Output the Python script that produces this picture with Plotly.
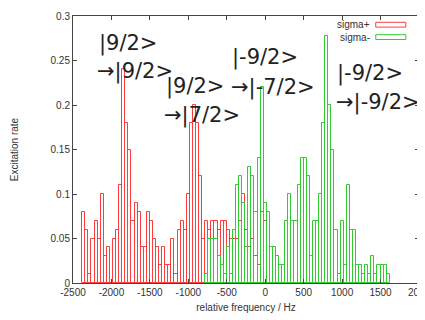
import plotly.graph_objects as go

# bin centres (Hz), 40 Hz wide bins
red_x = list(range(-2360, 1, 40))
red_y = [0.08, 0.06, 0.01, 0.05, 0.07, 0.05, 0.10, 0.03, 0.04, 0.00,
         0.05, 0.06, 0.11, 0.24, 0.18, 0.15, 0.07, 0.09, 0.08, 0.04,
         0.04, 0.08, 0.07, 0.05, 0.04, 0.02, 0.04, 0.02, 0.02, 0.05,
         0.01, 0.06, 0.07, 0.06, 0.10, 0.18, 0.20, 0.18, 0.12, 0.05,
         0.07, 0.06, 0.07, 0.07, 0.06, 0.07, 0.07, 0.06, 0.05, 0.05,
         0.05, 0.07, 0.10, 0.06, 0.04, 0.05, 0.03, 0.02, 0.08, 0.07]

green_x = list(range(-760, 1601, 40))
green_y = [0.01, 0.05, 0.05, 0.05, 0.03, 0.02, 0.01, 0.04, 0.01, 0.06,
           0.11, 0.12, 0.09, 0.04, 0.13, 0.12, 0.08, 0.14, 0.22, 0.09,
           0.08, 0.04, 0.04, 0.03, 0.02, 0.02, 0.07, 0.10, 0.07, 0.07,
           0.11, 0.14, 0.14, 0.12, 0.03, 0.07, 0.07, 0.10, 0.18, 0.278,
           0.20, 0.15, 0.06, 0.01, 0.07, 0.02, 0.11, 0.06, 0.06, 0.02,
           0.02, 0.01, 0.02, 0.01, 0.03, 0.01, 0.02, 0.02, 0.02, 0.01]

x_ticks = [-2500, -2000, -1500, -1000, -500, 0, 500, 1000, 1500, 2000]
x_tick_text = ["-2500", "-2000", "-1500", "-1000", "-500", "0", "500", "1000", "1500", "2000"]
y_ticks = [0, 0.05, 0.1, 0.15, 0.2, 0.25, 0.3]
y_tick_text = ["0", "0.05", "0.1", "0.15", "0.2", "0.25", "0.3"]

labels = [
    ("|9/2>", -2150, 0.269), ("\u2192|9/2>", -2176, 0.238),
    ("|9/2>", -1282, 0.221), ("\u2192|7/2>", -1308, 0.188),
    ("|-9/2>", -415, 0.253), ("\u2192|-7/2>", -427, 0.220),
    ("|-9/2>", 946, 0.235), ("\u2192|-9/2>", 933, 0.203),
]

RED = "#ff3b3b"
GREEN = "#2ecc2e"

fig = go.Figure()
fig.add_trace(go.Bar(x=red_x, y=red_y, width=40, name="sigma+",
                     marker=dict(color="rgba(0,0,0,0)", line=dict(color=RED, width=1))))
fig.add_trace(go.Bar(x=green_x, y=green_y, width=40, name="sigma-",
                     marker=dict(color="rgba(0,0,0,0)", line=dict(color=GREEN, width=1))))

for txt, x, y in labels:
    fig.add_annotation(x=x, y=y, text=txt, showarrow=False, xanchor="left", yanchor="middle",
                       xshift=-3,
                       font=dict(family="DejaVu Sans", size=21, color="#222"))

# legend drawn manually (gnuplot style: text then sample box)
leg = [("sigma+", RED, 0.9675), ("sigma-", GREEN, 0.921)]
for name, col, yc in leg:
    fig.add_annotation(xref="paper", yref="paper", x=0.864, y=yc, text=name, showarrow=False,
                       xanchor="right", yanchor="middle",
                       font=dict(family="Liberation Sans, Arial", size=10, color="#333"))
    fig.add_shape(type="rect", xref="paper", yref="paper", x0=0.875, x1=0.962,
                  y0=yc - 0.009, y1=yc + 0.009, line=dict(color=col, width=1),
                  fillcolor="rgba(0,0,0,0)")

axis_common = dict(showline=True, linecolor="#444", linewidth=1, mirror="ticks",
                   ticks="inside", ticklen=4, tickcolor="#444", showgrid=False, zeroline=False,
                   automargin=False, ticklabeloverflow="allow",
                   tickfont=dict(family="Liberation Sans, Arial", size=10, color="#333"))

fig.update_xaxes(range=[-2500, 2000], tickvals=x_ticks, ticktext=x_tick_text,
                 title=dict(text="relative frequency / Hz", standoff=6,
                            font=dict(family="Liberation Sans, Arial", size=10, color="#333")),
                 **axis_common)
fig.update_yaxes(range=[0, 0.3], tickvals=y_ticks, ticktext=y_tick_text,
                 title=dict(text="Excitation rate", standoff=30,
                            font=dict(family="Liberation Sans, Arial", size=10, color="#333")),
                 **axis_common)

# the page body has an 8 px offset, so the figure is 8 px smaller and margins shifted
fig.update_layout(width=417, height=312, barmode="overlay", bargap=0, showlegend=False,
                  margin=dict(l=64.5, r=5.7, t=7.6, b=36.7, autoexpand=False),
                  plot_bgcolor="white", paper_bgcolor="white")

fig.write_html("out.html")
